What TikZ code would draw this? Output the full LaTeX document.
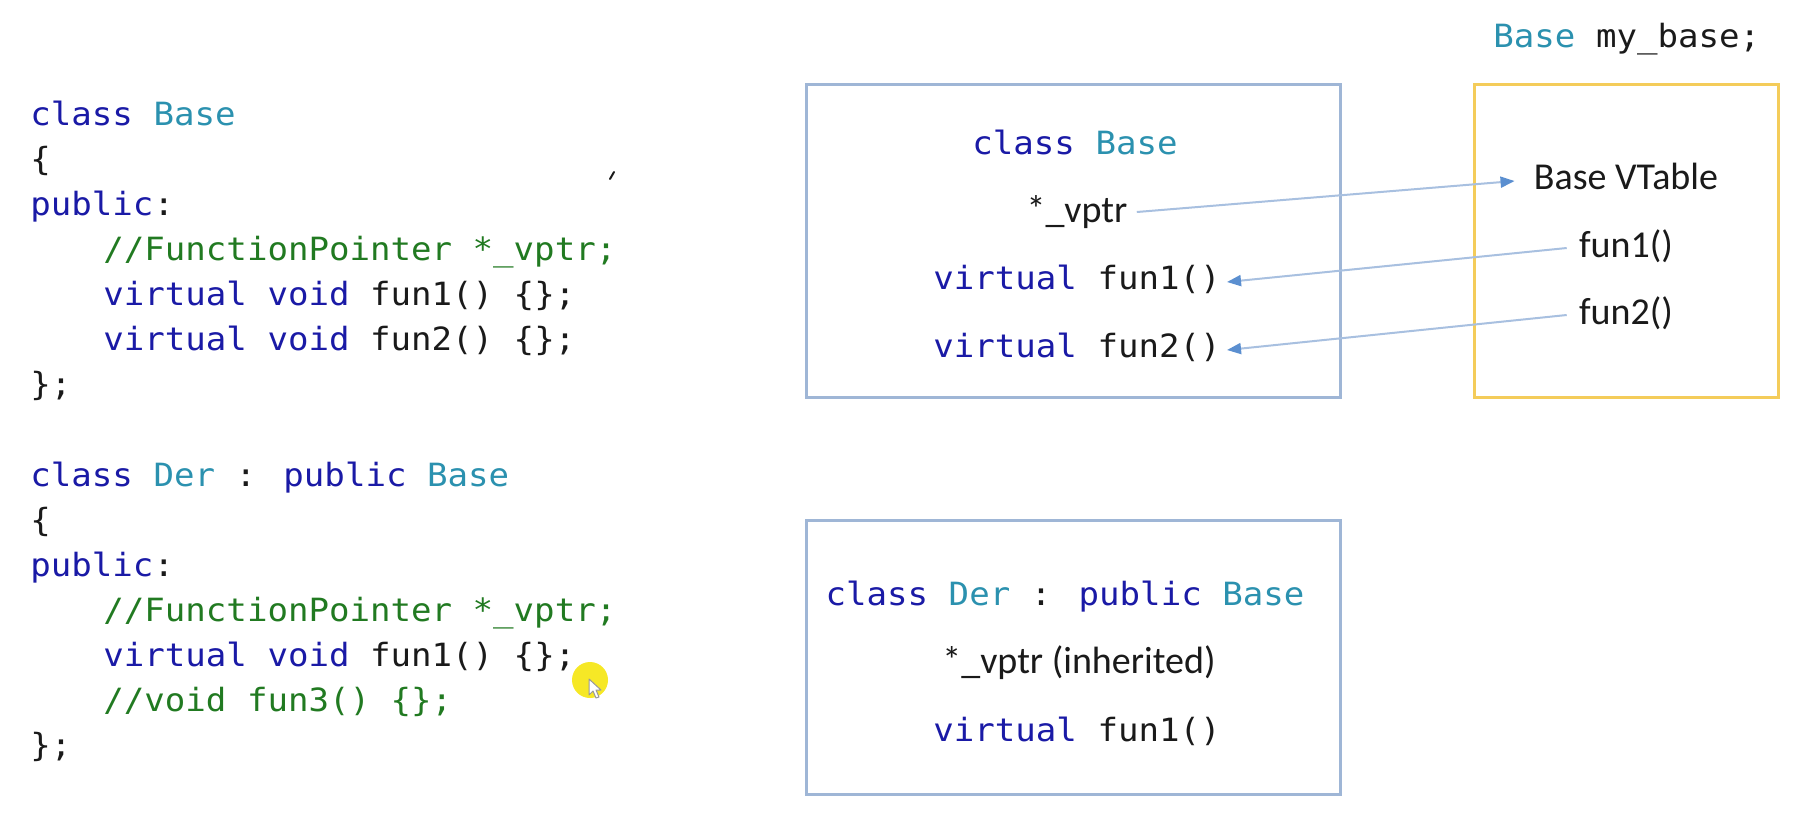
\documentclass[tikz,border=0pt]{standalone}
\usepackage{fontspec}
\usetikzlibrary{arrows.meta,calc}
\newfontfamily\codefont[FakeStretch=1.065]{DejaVu Sans Mono}
\newfontfamily\calfont{Carlito}
\definecolor{kwc}{HTML}{1A1AA6}
\definecolor{clsc}{HTML}{2B91AF}
\definecolor{cmc}{HTML}{217A21}
\definecolor{txtc}{HTML}{1A1A1A}
\definecolor{boxblue}{HTML}{9FB6D6}
\definecolor{boxyellow}{HTML}{F4CC5A}
\definecolor{arrline}{HTML}{A8C0E0}
\definecolor{arrhead}{HTML}{5B8FD0}
\definecolor{hilite}{HTML}{F5E400}
\newcommand{\kwd}[1]{\textcolor{kwc}{#1}}
\newcommand{\clsn}[1]{\textcolor{clsc}{#1}}
\newcommand{\cmt}[1]{\textcolor{cmc}{#1}}
\begin{document}
\begin{tikzpicture}[x=0.5pt,y=-0.5pt,
  code/.style={anchor=base west,inner sep=0pt,text=txtc,font=\codefont\fontsize{16pt}{20pt}\selectfont},
  ccode/.style={code,anchor=base},
  cal/.style={anchor=base,inner sep=0pt,text=txtc,font=\calfont\fontsize{19pt}{22pt}\selectfont},
  bluebox/.style={draw=boxblue,line width=1.5pt},
  yellowbox/.style={draw=boxyellow,line width=1.5pt},
  ptr/.style={draw=arrline,line width=1pt,-{Triangle[length=7pt,width=5.5pt,color=arrhead]}}]
\useasboundingbox[fill=white] (0,0) rectangle (1815,821);
% left code
\node[code] (c1) at (30,125) {\kwd{class} \clsn{Base}};
\node[code] (c2) at (30,170) {\{};
\node[code] (c3) at (30,215) {\kwd{public}:};
\node[code] (c4) at (103,260) {\cmt{//FunctionPointer *\_vptr;}};
\node[code] (c5) at (103,305) {\kwd{virtual} \kwd{void} fun1() \{\};};
\node[code] (c6) at (103,350) {\kwd{virtual} \kwd{void} fun2() \{\};};
\node[code] (c7) at (30,395) {\};};
\node[code] (d1) at (30,486) {\kwd{class} \clsn{Der} : \kwd{public} \clsn{Base}};
\node[code] (d2) at (30,531) {\{};
\node[code] (d3) at (30,576) {\kwd{public}:};
\node[code] (d4) at (103,621) {\cmt{//FunctionPointer *\_vptr;}};
\node[code] (d5) at (103,666) {\kwd{virtual} \kwd{void} fun1() \{\};};
\node[code] (d6) at (103,711) {\cmt{//void fun3() \{\};}};
\node[code] (d7) at (30,756) {\};};
% tiny stray mark
\draw[txtc,line width=1pt,line cap=round] (610,179) -- (614,172);
% cursor highlight
\fill[hilite,opacity=0.85] (590,680) circle (18);
\draw[gray!80,fill=white,line width=0.5pt,line join=round] (589,679) -- (589,695) -- (593,691) -- (596,698) -- (599,697) -- (596,690) -- (601,690) -- cycle;
% boxes
\draw[bluebox] (806,84) rectangle (1340,397);
\draw[yellowbox] (1474,84) rectangle (1778,397);
\draw[bluebox] (806,520) rectangle (1340,794);
% header
\node[code] (mybase) at (1493,47) {\clsn{Base} my\_base;};
% top box texts
\node[ccode] (bt) at (1075,154) {\kwd{class} \clsn{Base}};
\node[cal] (vptr) at (1077,222) {*\_vptr};
\node[ccode] (bf1) at (1077,289) {\kwd{virtual} fun1()};
\node[ccode] (bf2) at (1077,357) {\kwd{virtual} fun2()};
% vtable texts
\node[cal] (vt) at (1626,189) {Base VTable};
\node[cal] (vf1) at (1626,257) {fun1()};
\node[cal] (vf2) at (1626,324) {fun2()};
% bottom box texts
\node[ccode] (dt) at (1065,605) {\kwd{class} \clsn{Der} : \kwd{public} \clsn{Base}};
\node[cal] (dv) at (1079,673) {*\_vptr (inherited)};
\node[ccode] (df) at (1077,741) {\kwd{virtual} fun1()};
% arrows
\draw[ptr] ($(vptr.base east)+(9,-10)$) -- ($(vt.base west)+(-19,-8)$);
\draw[ptr] ($(vf1.base west)+(-12,-9)$) -- ($(bf1.base east)+(6,-7)$);
\draw[ptr] ($(vf2.base west)+(-12,-9)$) -- ($(bf2.base east)+(6,-7)$);
\end{tikzpicture}
\end{document}
